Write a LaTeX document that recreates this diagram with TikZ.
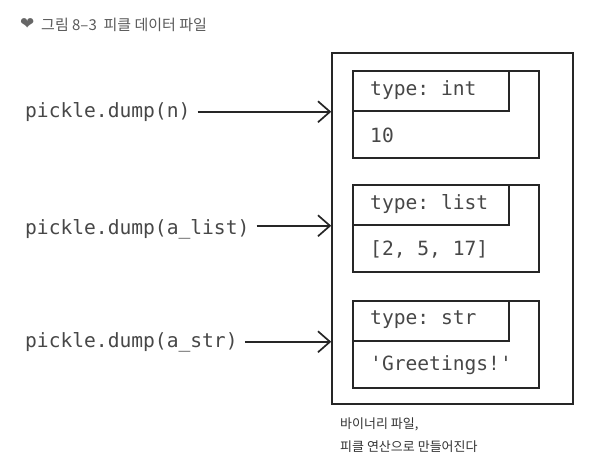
\documentclass[tikz,border=0pt]{standalone}
\usepackage{fontspec}
\setmonofont{DejaVu Sans Mono}
\newfontfamily\krfont{Noto Sans CJK KR}
\newfontfamily\symfont{DejaVu Sans}
\usetikzlibrary{arrows.meta,positioning,calc}
\begin{document}
\begin{tikzpicture}[x=1pt,y=-1pt,
  line/.style={draw=black!85,line width=1.5pt},
  code/.style={font=\ttfamily\fontsize{19.6}{22}\selectfont,text=black!72,inner sep=0pt,anchor=west},
  arr/.style={line, line width=1.7pt, -{Straight Barb[length=12pt,width=21pt]}},
]
\useasboundingbox (0,0) rectangle (593,472);
% title
\node[anchor=west,inner sep=0pt,text=black!60,font=\symfont\fontsize{17}{19}\selectfont] (heart) at (20,24.5) {❤};
\node[anchor=west,inner sep=0pt,text=black!65,font=\krfont\fontsize{15}{17}\selectfont] (title) at (41,25) {그림 8–3\ \ 피클 데이터 파일};
% outer file box
\node[line,rectangle,minimum width=241pt,minimum height=351pt,inner sep=0pt] (file) at (452.5,228.5) {};
% record boxes
\foreach \i/\y/\t/\v in {1/71/type: int/10, 2/185/type: list/{[2, 5, 17]}, 3/301/type: str/'Greetings!'}{
  \node[line,rectangle,minimum width=186pt,minimum height=87pt,inner sep=0pt] (rec\i) at (446,\y+43.5) {};
  \node[line,rectangle,minimum width=156pt,minimum height=40pt,inner sep=0pt] (hdr\i) at (431,\y+20) {};
  \node[code] (typ\i) at (370,\y+19) {\t};
  \node[code] (val\i) at (370,\y+64) {\v};
}
% labels and arrows
\node[code] (l1) at (25,112) {pickle.dump(n)};
\node[code] (l2) at (25,229) {pickle.dump(a\_list)};
\node[code] (l3) at (25,342) {pickle.dump(a\_str)};
\draw[arr] ([xshift=7pt]l1.east |- hdr1.south) -- (hdr1.south -| file.west);
\draw[arr] ([xshift=7pt]l2.east |- hdr2.south) -- (hdr2.south -| file.west);
\draw[arr] ([xshift=7pt]l3.east |- hdr3.south) -- (hdr3.south -| file.west);
% caption
\node[anchor=north west,inner sep=0pt,align=left,text=black!80,font=\krfont\fontsize{13}{23}\selectfont] (cap) at (340,418) {바이너리 파일,\\피클 연산으로 만들어진다};
\end{tikzpicture}
\end{document}
